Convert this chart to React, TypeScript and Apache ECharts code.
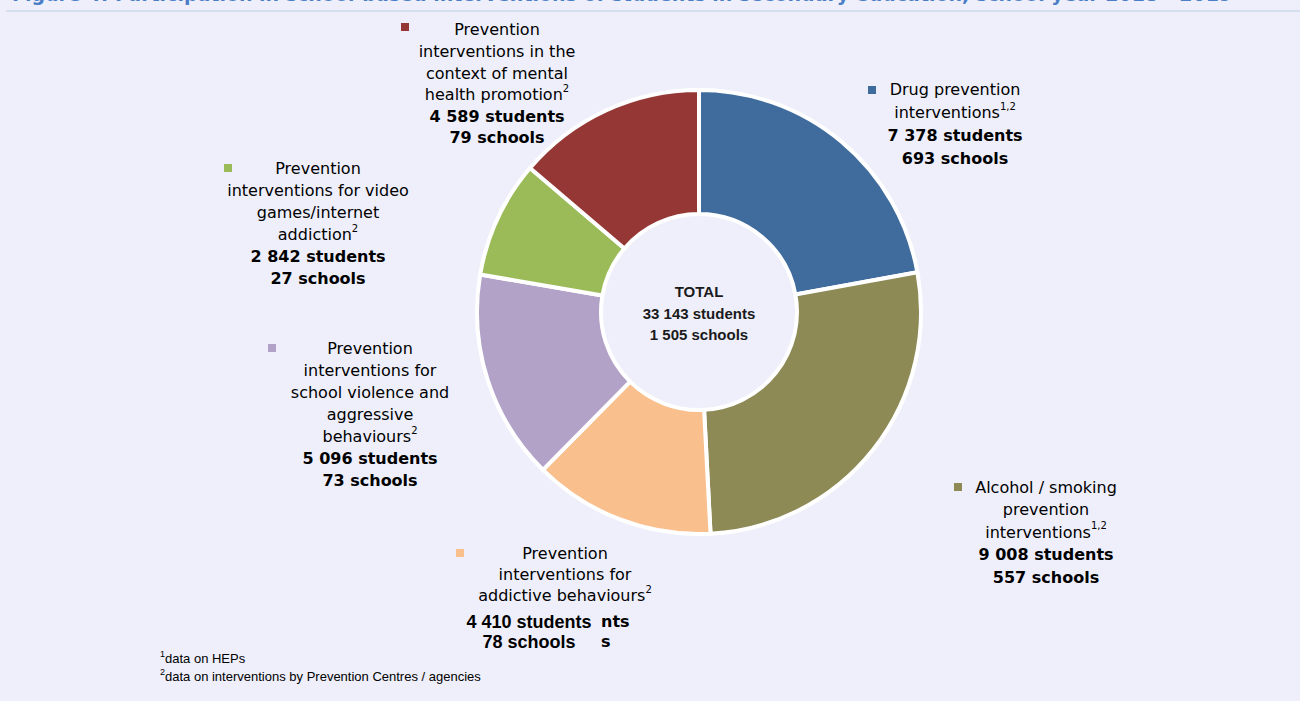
import React, { useEffect, useRef } from "react";
import * as echarts from "echarts";

const categoryLines = [
  ["Drug prevention", "interventions{sup|1,2}"],
  ["Alcohol / smoking", "prevention", "interventions{sup|1,2}"],
  ["Prevention", "interventions for", "addictive behaviours{sup|2}"],
  ["Prevention", "interventions for", "school violence and", "aggressive", "behaviours{sup|2}"],
  ["Prevention", "interventions for video", "games/internet", "addiction{sup|2}"],
  ["Prevention", "interventions in the", "context of mental", "health promotion{sup|2}"],
];
const categoryNames = [
  "Drug prevention interventions",
  "Alcohol / smoking prevention interventions",
  "Prevention interventions for addictive behaviours",
  "Prevention interventions for school violence and aggressive behaviours",
  "Prevention interventions for video games/internet addiction",
  "Prevention interventions in the context of mental health promotion",
];
const students = [7378, 9008, 4410, 5096, 2842, 4589];
const schools = [693, 557, 78, 73, 27, 79];
const studentLabels = ["7 378", "9 008", "4 410", "5 096", "2 842", "4 589"];
const schoolLabels = ["693", "557", "78", "73", "27", "79"];
const totalLines = ["TOTAL", "33 143 students", "1 505 schools"];
const footnotes = ["{sup|1}data on HEPs", "{sup|2}data on interventions by Prevention Centres / agencies"];
const titleText =
  "Figure 4: Participation in school-based interventions of students in secondary education, school year 2018 - 2019";

const colors = ["#3f6b9d", "#8d8a56", "#f9bf8c", "#b3a2c8", "#9bbb59", "#953735"];
const BG = "#eeeffb";

// label layout: [square x, square y, text center x, first line center y, line height, show bold stats]
const labelLayout = [
  [872, 90, 955, 90, 22.7, true],
  [958, 487, 1046, 487, 22.5, true],
  [460, 553, 565, 553, 21, false],
  [272, 348, 370, 348, 22, true],
  [228, 168, 318, 168, 22, true],
  [405, 27, 497, 30, 21.6, true],
];

export default function App() {
  const ref = useRef<HTMLDivElement>(null);
  useEffect(() => {
    document.body.style.margin = "0";
    const chart = echarts.init(ref.current!, null, { renderer: "svg" });
    const rich = (lh: number) => ({
      n: { fontFamily: "DejaVu Sans", fontSize: 16, color: "#383838", lineHeight: lh },
      b: { fontFamily: "DejaVu Sans", fontSize: 16, fontWeight: "bold", color: "#1a1a1a", lineHeight: lh },
      sup: { fontFamily: "DejaVu Sans", fontSize: 10, color: "#383838", lineHeight: lh, verticalAlign: "top" },
    });
    const graphics: any[] = [];
    graphics.push({
      type: "text",
      left: 12,
      top: -16,
      style: { text: titleText, fontFamily: "DejaVu Sans", fontWeight: "bold", fontSize: 19, fill: "#4a7ec6" },
    });
    graphics.push({
      type: "line",
      shape: { x1: 6, y1: 11, x2: 1300, y2: 11 },
      style: { stroke: "#d5dff0", lineWidth: 2 },
    });
    labelLayout.forEach((l, i) => {
      const [sx, sy, cx, cy, lh, stats] = l as [number, number, number, number, number, boolean];
      graphics.push({
        type: "rect",
        shape: { x: sx - 4, y: sy - 4, width: 8, height: 8 },
        style: { fill: colors[i] },
      });
      const lines = categoryLines[i].map((t) => {
        const m = t.match(/^(.*?)(\{sup\|.*\})?$/)!;
        return "{n|" + m[1] + "}" + (m[2] || "");
      });
      if (stats) {
        lines.push("{b|" + studentLabels[i] + " students}");
        lines.push("{b|" + schoolLabels[i] + " schools}");
      }
      graphics.push({
        type: "text",
        x: cx,
        y: cy - lh / 2,
        style: {
          text: lines.join("\n"),
          rich: rich(lh),
          align: "center",
          verticalAlign: "top",
        },
      });
    });
    // overlay stats for the addictive behaviours slice
    graphics.push({
      type: "text",
      x: 612,
      y: 611,
      style: {
        text: "{n|nts}\n{n|s}",
        rich: {
          n: { fontFamily: "DejaVu Sans", fontSize: 16, fontWeight: "bold", color: "#444", lineHeight: 20, width: 22, align: "left" },
        },
        align: "center",
        verticalAlign: "top",
      },
    });
    graphics.push({
      type: "text",
      x: 529,
      y: 612,
      style: {
        text: studentLabels[2] + " students\n" + schoolLabels[2] + " schools",
        fontFamily: "Liberation Sans",
        fontWeight: "bold",
        fontSize: 18,
        lineHeight: 20,
        fill: "#000",
        align: "center",
        verticalAlign: "top",
      },
    });
    graphics.push({
      type: "text",
      x: 699,
      y: 281,
      style: {
        text: totalLines.join("\n"),
        fontFamily: "Liberation Sans",
        fontWeight: "bold",
        fontSize: 15,
        lineHeight: 21.5,
        fill: "#1a1a1a",
        align: "center",
        verticalAlign: "top",
      },
    });
    graphics.push({
      type: "text",
      left: 160,
      top: 649,
      style: {
        text: footnotes.map((f) => f.replace(/^(\{sup\|\d\})(.*)$/, "$1{f|$2}")).join("\n"),
        rich: {
          f: { fontFamily: "Liberation Sans", fontSize: 13, color: "#333", lineHeight: 18 },
          sup: { fontFamily: "Liberation Sans", fontSize: 9, color: "#333", lineHeight: 18, verticalAlign: "top" },
        },
      },
    });

    chart.setOption({
      animation: false,
      backgroundColor: BG,
      graphic: graphics,
      series: [
        {
          type: "pie",
          silent: true,
          center: [699, 312],
          radius: [98, 222],
          startAngle: 90,
          clockwise: true,
          label: { show: false },
          labelLine: { show: false },
          itemStyle: { borderColor: "#ffffff", borderWidth: 4 },
          data: students.map((v, i) => ({
            name: categoryNames[i],
            value: v,
            schools: schools[i],
            itemStyle: { color: colors[i] },
          })),
        },
      ],
    });
    return () => chart.dispose();
  }, []);
  return <div ref={ref} style={{ width: 1300, height: 701, background: BG }} />;
}
